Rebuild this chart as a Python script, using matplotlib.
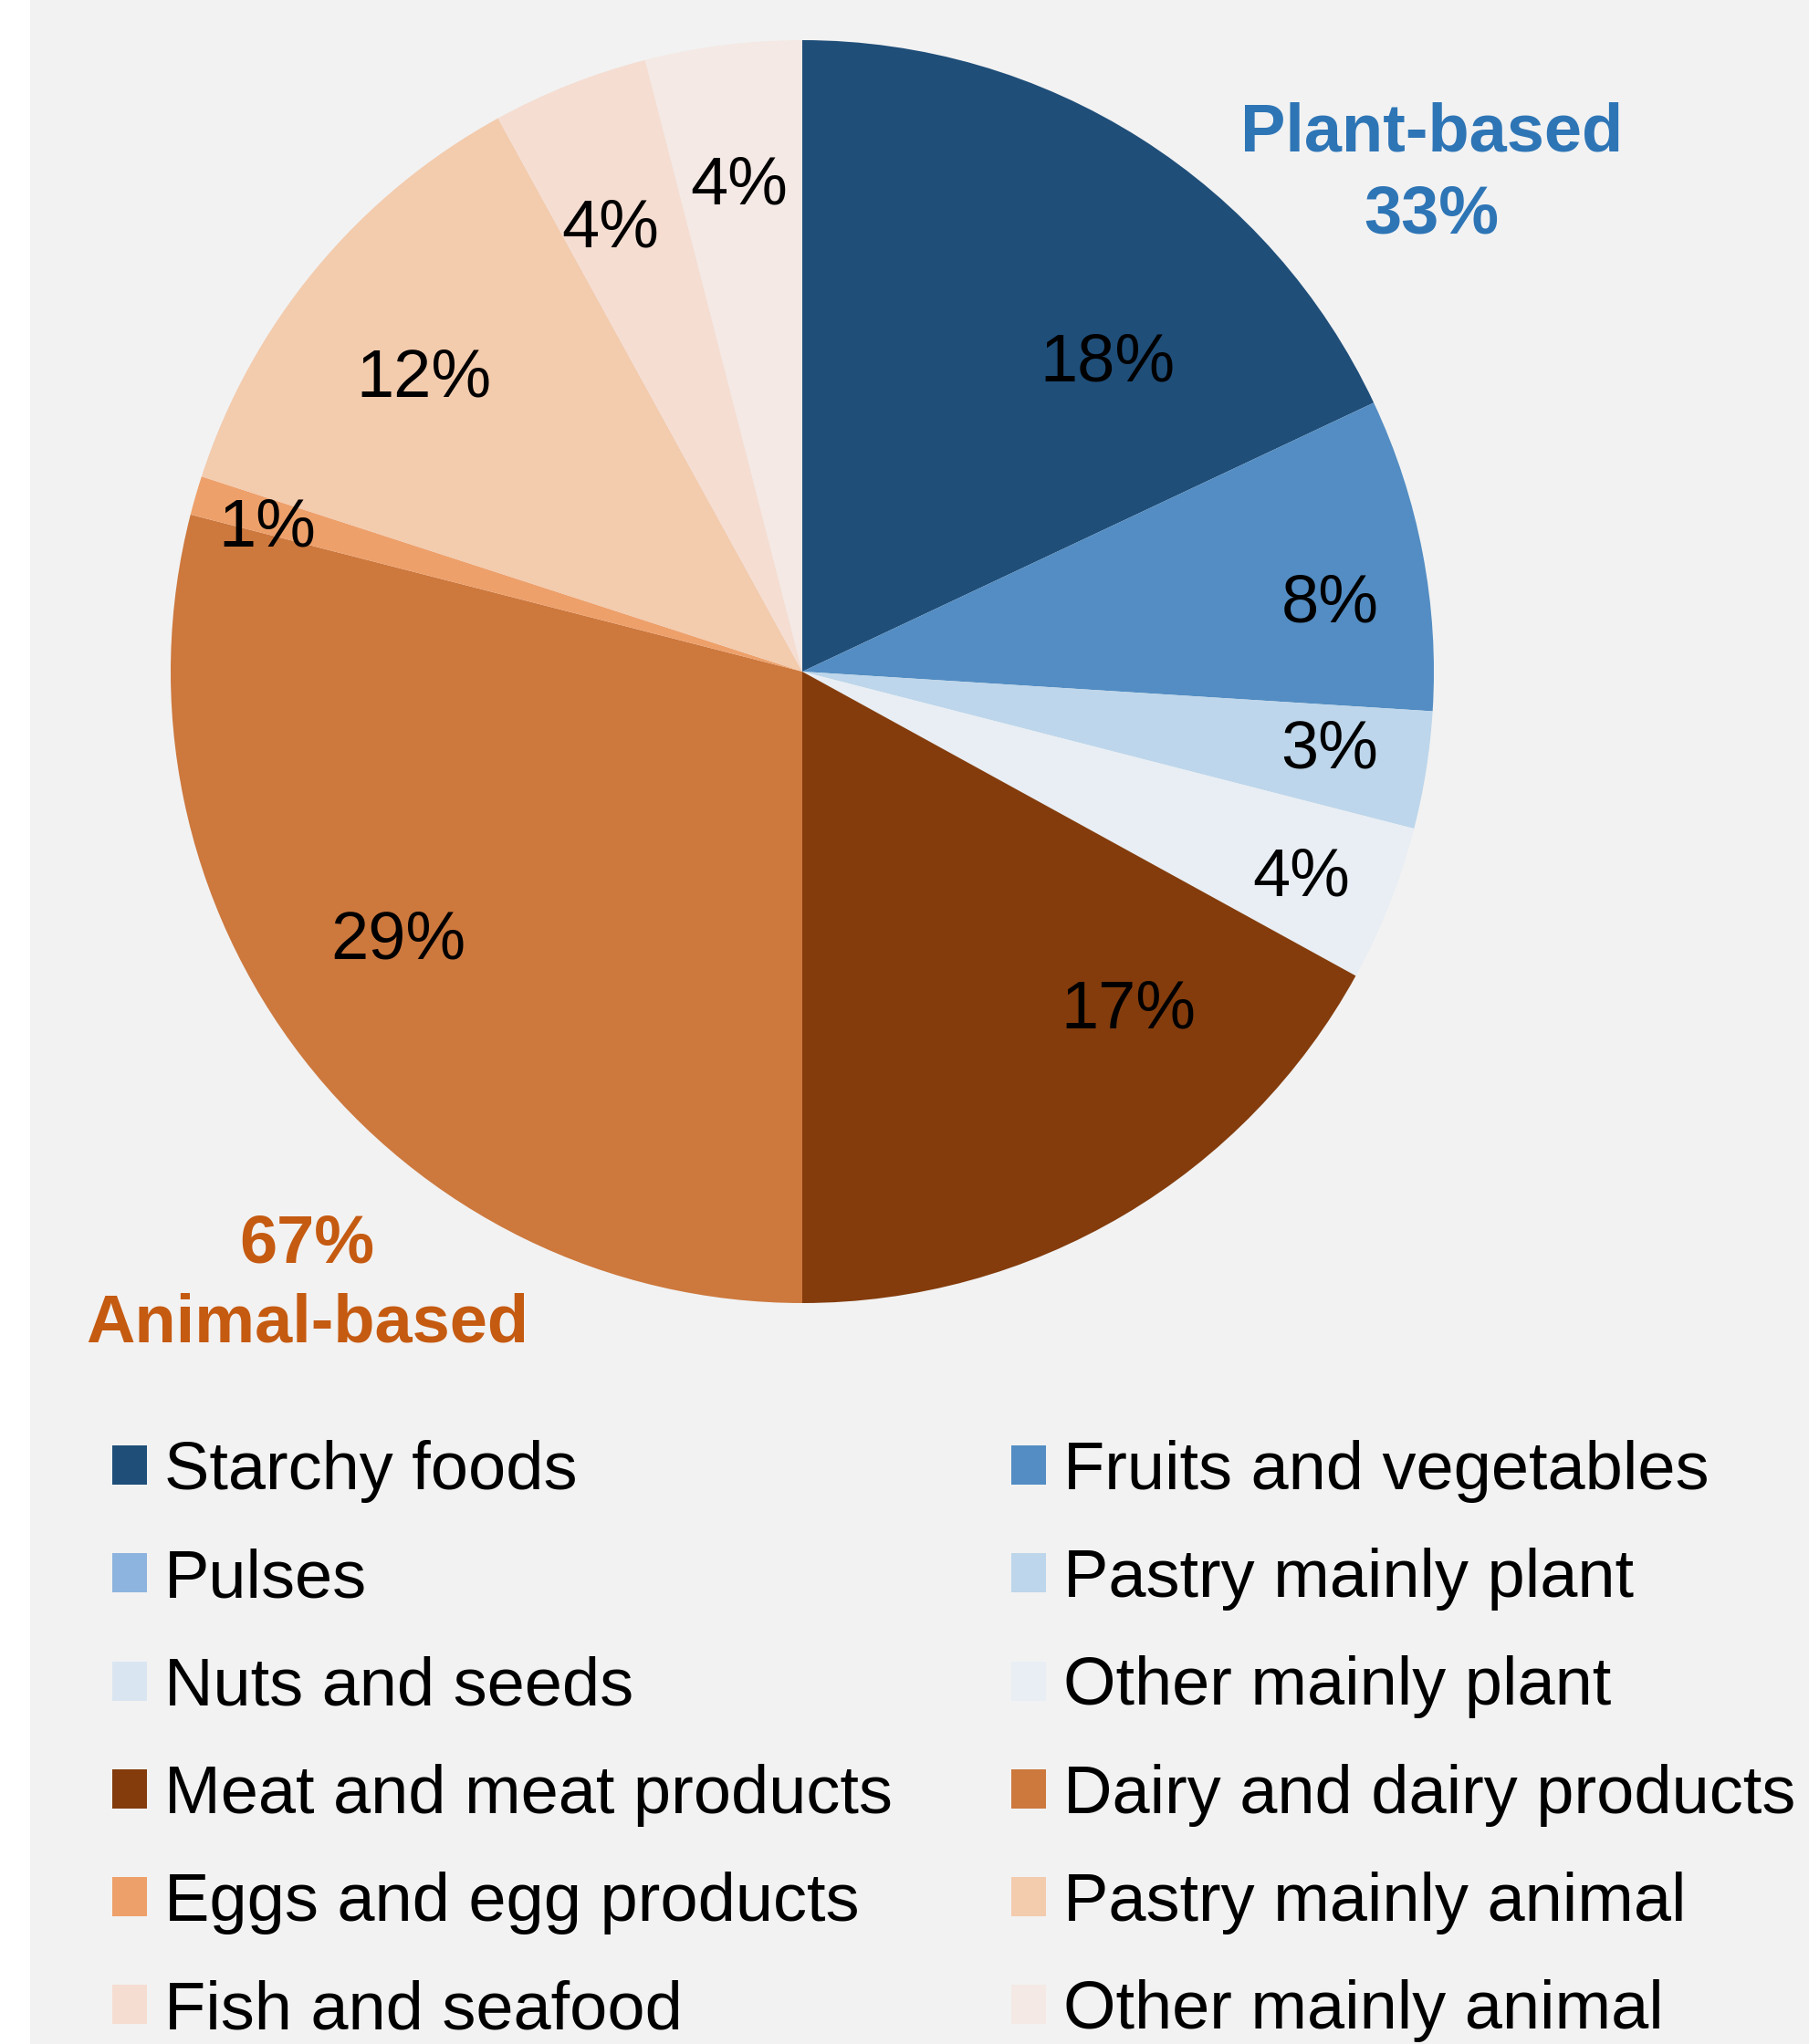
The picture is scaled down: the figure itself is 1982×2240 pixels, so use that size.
import matplotlib
matplotlib.use('Agg')
import matplotlib.pyplot as plt
import numpy as np
from matplotlib.patches import Rectangle

# ---------------- data ----------------
categories = ['Starchy foods', 'Fruits and vegetables', 'Pulses', 'Pastry mainly plant',
              'Nuts and seeds', 'Other mainly plant', 'Meat and meat products',
              'Dairy and dairy products', 'Eggs and egg products', 'Pastry mainly animal',
              'Fish and seafood', 'Other mainly animal']
shares = [18, 8, 0, 3, 0, 4, 17, 29, 1, 12, 4, 4]
group_names = ['Plant-based', 'Animal-based']
group_shares = [33, 67]

# ---------------- style ----------------
colors = ['#1f4e79', '#538dc3', '#8db4de', '#bdd6eb', '#d9e5f1', '#e8eef4',
          '#843c0c', '#cd783d', '#eea06a', '#f3cbad', '#f5ddd2', '#f4e9e4']
group_colors = ['#2e75b6', '#c55a11']
# label placement: radius fraction and angular offset (deg) from wedge middle
label_r = [0.693, 0.843, 0, 0.843, 0, 0.852, 0.740, 0.765, 0.879, 0.762, 0.770, 0.782]
label_dt = [-11.9, -3.0, 0, 1.0, 0, -0.4, 13.7, -4.6, 0.8, 1.5, 1.6, 0.2]

plt.rcParams['font.family'] = ['Liberation Sans', 'DejaVu Sans']
FS = 53.3

W, H = 1983, 2240
fig = plt.figure(figsize=(W / 100, H / 100), dpi=100)
fig.patch.set_facecolor('white')
fig.add_artist(Rectangle((33 / W, 0), 1 - 33 / W, 1, transform=fig.transFigure,
                         facecolor='#f2f2f2', edgecolor='none', zorder=-10))

cx, cy, R = 879, 736, 692
ax = fig.add_axes([(cx - R) / W, 1 - (cy + R) / H, 2 * R / W, 2 * R / H])
ax.set_facecolor('none')
wedges, _ = ax.pie(shares, colors=colors, startangle=90, counterclock=False, radius=1,
                   wedgeprops=dict(linewidth=0))
ax.set_xlim(-1, 1)
ax.set_ylim(-1, 1)
ax.axis('off')

for w, v, r, dt in zip(wedges, shares, label_r, label_dt):
    if v == 0:
        continue
    mid = np.deg2rad((w.theta1 + w.theta2) / 2 + dt)
    ax.text(r * np.cos(mid), r * np.sin(mid) + 0.004, f'{v}%', ha='center',
            va='center_baseline', fontsize=FS, color='black')

# group labels
ax.text(0.996, 0.825, group_names[0], ha='center', va='baseline', fontsize=FS,
        fontweight='bold', color=group_colors[0])
ax.text(0.996, 0.695, f'{group_shares[0]}%', ha='center', va='baseline', fontsize=FS,
        fontweight='bold', color=group_colors[0])
ax.text(-0.784, -0.935, f'{group_shares[1]}%', ha='center', va='baseline', fontsize=FS,
        fontweight='bold', color=group_colors[1])
ax.text(-0.784, -1.062, group_names[1], ha='center', va='baseline', fontsize=FS,
        fontweight='bold', color=group_colors[1])

# legend: two columns filled row-wise
left_idx = list(range(0, len(categories), 2))
right_idx = list(range(1, len(categories), 2))
common = dict(loc='upper left', frameon=False, prop=dict(family='Liberation Sans', size=FS),
              handlelength=0.516, handleheight=0.516, handletextpad=0.25,
              labelspacing=0.665, borderpad=0, borderaxespad=0)
top = 1578
fig.legend([wedges[i] for i in left_idx], [categories[i] for i in left_idx],
           bbox_to_anchor=(123 / W, 1 - top / H), **common)
fig.legend([wedges[i] for i in right_idx], [categories[i] for i in right_idx],
           bbox_to_anchor=(1108 / W, 1 - top / H), **common)

fig.savefig('out.png', dpi=100, facecolor=fig.get_facecolor())
